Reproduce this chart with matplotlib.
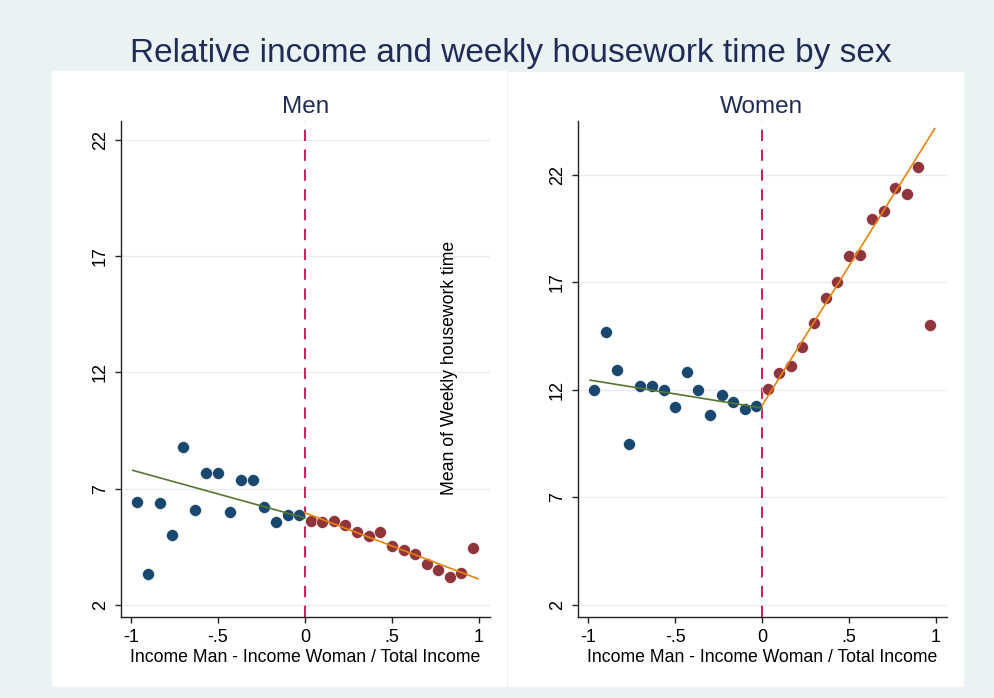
import numpy as np
import matplotlib
matplotlib.use('Agg')
import matplotlib.pyplot as plt
from matplotlib.patches import Rectangle

plt.rcParams['font.family'] = ['Liberation Sans', 'DejaVu Sans']

# bin centres of relative income
x_neg = [-0.967, -0.9, -0.833, -0.767, -0.7, -0.633, -0.567, -0.5,
         -0.433, -0.367, -0.3, -0.233, -0.167, -0.1, -0.033]
x_pos = [0.033, 0.1, 0.167, 0.233, 0.3, 0.367, 0.433, 0.5,
         0.567, 0.633, 0.7, 0.767, 0.833, 0.9, 0.967]

# mean weekly housework time per bin
men_neg = [6.43, 3.33, 6.39, 5.01, 8.78, 6.10, 7.69, 7.69,
           6.00, 7.36, 7.36, 6.20, 5.58, 5.87, 5.85]
men_pos = [5.62, 5.57, 5.62, 5.42, 5.14, 4.95, 5.14, 4.54,
           4.36, 4.18, 3.75, 3.52, 3.19, 3.39, 4.46]
women_neg = [12.01, 14.70, 12.92, 9.47, 12.19, 12.19, 11.99, 11.21,
             12.84, 11.99, 10.85, 11.77, 11.44, 11.13, 11.26]
women_pos = [12.05, 12.80, 13.13, 14.00, 15.10, 16.27, 17.01, 18.22,
             18.29, 19.97, 20.34, 21.38, 21.10, 22.39, 15.02]

# linear fits (intercept at 0, slope) as drawn
men_fit_neg = (5.74, -2.07)
men_fit_pos = (5.96, -2.85)
women_fit_neg = (11.16, -1.31)
women_fit_pos = (11.27, 12.95)
fit_range_neg = [-0.99, 0]
fit_range_pos = [0, 0.995]

yticks = [2, 7, 12, 17, 22]
xticks = [-1, -0.5, 0, 0.5, 1]
xticklabels = ['-1', '-.5', '0', '.5', '1']

W, H = 994, 698
bg = '#eaf2f3'
navy = '#1f2d56'
blue = '#1a476f'
maroon = '#90353b'
green = '#55752f'
orange = '#e8830e'
dash_col = '#d01c55'

fig = plt.figure(figsize=(W / 100, H / 100), dpi=100)
fig.patch.set_facecolor(bg)

# white panels
fig.patches.append(Rectangle((52 / W, 1 - 687 / H), 455 / W, 616 / H,
                             transform=fig.transFigure, facecolor='white',
                             edgecolor='none', zorder=-10))
fig.patches.append(Rectangle((508 / W, 1 - 687 / H), 456 / W, 615 / H,
                             transform=fig.transFigure, facecolor='white',
                             edgecolor='none', zorder=-10))

fig.text(510.5 / W, 1 - 61.7 / H, 'Relative income and weekly housework time by sex',
         ha='center', va='baseline', fontsize=24, color=navy)


def panel(rect, ylim, neg, pos, fit_neg, fit_pos, name, cx):
    ax = fig.add_axes(rect)
    ax.set_facecolor('white')
    ax.set_xlim(-1.058, 1.064)
    ax.set_ylim(*ylim)
    for s in ['top', 'right']:
        ax.spines[s].set_visible(False)
    for s in ['left', 'bottom']:
        ax.spines[s].set_linewidth(1.0)
        ax.spines[s].set_color('#222222')
    ax.set_yticks(yticks)
    ax.set_xticks(xticks)
    ax.set_xticklabels(xticklabels)
    ax.tick_params(axis='both', length=4.3, width=1.0, color='#222222',
                   labelsize=13, labelcolor='black')
    ax.tick_params(axis='y', pad=4.5, labelrotation=90)
    ax.tick_params(axis='x', pad=4)
    for lab in ax.get_yticklabels():
        lab.set_va('center')
    ax.yaxis.grid(True, color='#e6eef1', linewidth=1.0)
    ax.set_axisbelow(True)

    ax.axvline(0, color=dash_col, linewidth=1.4, linestyle=(0, (5.8, 4.4)), zorder=2)

    ax.scatter(x_neg, neg, s=74, color=blue, edgecolors='white', linewidths=0.4, zorder=3)
    ax.scatter(x_pos, pos, s=74, color=maroon, edgecolors='white', linewidths=0.4, zorder=3)

    xn = np.array(fit_range_neg)
    xp = np.array(fit_range_pos)
    ax.plot(xn, fit_neg[0] + fit_neg[1] * xn, color=green, linewidth=1.2, zorder=4)
    ax.plot(xp, fit_pos[0] + fit_pos[1] * xp, color=orange, linewidth=1.2, zorder=4)

    fig.text(cx / W, 1 - 113.3 / H, name, ha='center', va='baseline',
             fontsize=17.5, color=navy)
    fig.text(cx / W, 1 - 661.5 / H, 'Income Man - Income Woman / Total Income',
             ha='center', va='baseline', fontsize=12.7, color='black')
    return ax


ax1 = panel([121 / W, 1 - 617 / H, 369 / W, 496 / H], (1.48, 22.82),
            men_neg, men_pos, men_fit_neg, men_fit_pos, 'Men', 305.6)
ax2 = panel([578.3 / W, 1 - 617 / H, 368.4 / W, 496 / H], (1.44, 24.51),
            women_neg, women_pos, women_fit_neg, women_fit_pos, 'Women', 761.8)

# y axis title ends up inside the left panel, as in the original
fig.text(449 / W, 1 - 368 / H, 'Mean of Weekly housework time', rotation=90,
         ha='center', va='center', fontsize=12.7, color='black')

fig.savefig('out.png', dpi=100, facecolor=fig.get_facecolor())
